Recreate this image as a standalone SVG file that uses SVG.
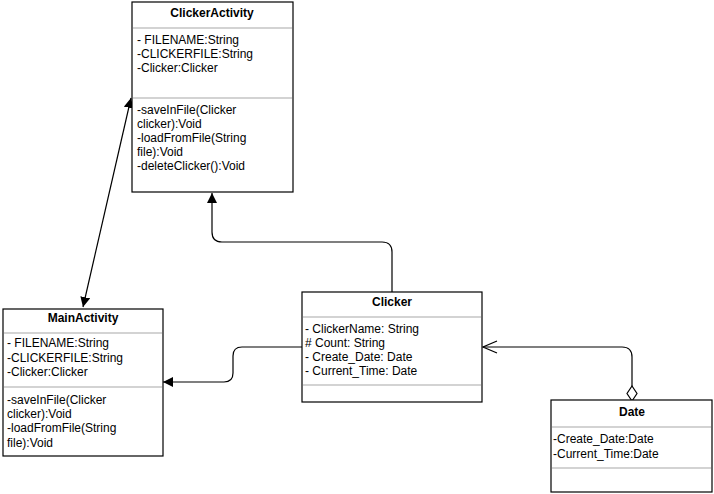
<svg xmlns="http://www.w3.org/2000/svg" width="714" height="494" viewBox="0 0 714 494">
<style>
.box{fill:#fff;stroke:#000;stroke-width:1.2}
.div{stroke:#c4c4c4;stroke-width:1.5}
.t{font-family:"Liberation Sans",Arial,sans-serif;font-size:12px;fill:#000}
.h{font-family:"Liberation Sans",Arial,sans-serif;font-size:12px;font-weight:bold;fill:#000;text-anchor:middle}
.c{fill:none;stroke:#000;stroke-width:1.2}
</style>
<defs>
<marker id="fa" viewBox="0 0 10 10" refX="10" refY="5" markerWidth="10" markerHeight="10" markerUnits="userSpaceOnUse" orient="auto">
<path d="M0,0 L10,5 L0,10 Z" fill="#000"/>
</marker>
<marker id="fas" viewBox="0 0 10 10" refX="10" refY="5" markerWidth="10" markerHeight="10" markerUnits="userSpaceOnUse" orient="auto-start-reverse">
<path d="M0,0 L10,5 L0,10 Z" fill="#000"/>
</marker>
<marker id="oa" viewBox="0 0 16 14" refX="15" refY="7" markerWidth="16" markerHeight="14" markerUnits="userSpaceOnUse" orient="auto">
<path d="M1,1 L15,7 L1,13" fill="none" stroke="#000" stroke-width="1.2"/>
</marker>
</defs>
<g id="connectors">
<path class="c" d="M392,292 V252 Q392,242 382,242 H222 Q212,242 212,232 V193" marker-end="url(#fa)"/>
<path class="c" d="M302,347 H242 Q233,347 233,356 V373 Q233,382 224,382 H163" marker-end="url(#fa)"/>
<path class="c" d="M632,387 V357 Q632,347 622,347 H483" marker-end="url(#oa)"/>
<path d="M632,386 L637,393.5 L632,401 L627,393.5 Z" fill="#fff" stroke="#000" stroke-width="1.2"/>
<path class="c" d="M131,98 L83,307" marker-start="url(#fas)" marker-end="url(#fa)"/>
</g>
<g id="ClickerActivity">
<rect class="box" x="132" y="2" width="161" height="190"/>
<line class="div" x1="133" y1="28" x2="292" y2="28"/>
<line class="div" x1="133" y1="98" x2="292" y2="98"/>
<text class="h" x="212" y="17">ClickerActivity</text>
<text class="t" x="137" y="44">- FILENAME:String</text>
<text class="t" x="137" y="58">-CLICKERFILE:String</text>
<text class="t" x="137" y="72">-Clicker:Clicker</text>
<text class="t" x="137" y="114">-saveInFile(Clicker</text>
<text class="t" x="137" y="128">clicker):Void</text>
<text class="t" x="137" y="142">-loadFromFile(String</text>
<text class="t" x="137" y="156">file):Void</text>
<text class="t" x="137" y="170">-deleteClicker():Void</text>
</g>
<g id="MainActivity">
<rect class="box" x="3" y="309" width="160" height="147"/>
<line class="div" x1="4" y1="333" x2="162" y2="333"/>
<line class="div" x1="4" y1="387" x2="162" y2="387"/>
<text class="h" x="83" y="322">MainActivity</text>
<text class="t" x="7" y="347">- FILENAME:String</text>
<text class="t" x="7" y="362">-CLICKERFILE:String</text>
<text class="t" x="7" y="376">-Clicker:Clicker</text>
<text class="t" x="7" y="404">-saveInFile(Clicker</text>
<text class="t" x="7" y="418">clicker):Void</text>
<text class="t" x="7" y="432">-loadFromFile(String</text>
<text class="t" x="7" y="447">file):Void</text>
</g>
<g id="Clicker">
<rect class="box" x="302" y="292" width="180" height="110"/>
<line class="div" x1="303" y1="317" x2="481" y2="317"/>
<line class="div" x1="303" y1="385" x2="481" y2="385"/>
<text class="h" x="392" y="306">Clicker</text>
<text class="t" x="305" y="333">- ClickerName: String</text>
<text class="t" x="305" y="347">#  Count: String</text>
<text class="t" x="305" y="361">- Create_Date: Date</text>
<text class="t" x="305" y="375">- Current_Time: Date</text>
</g>
<g id="Date">
<rect class="box" x="551" y="400" width="161" height="92"/>
<line class="div" x1="552" y1="427" x2="711" y2="427"/>
<line class="div" x1="552" y1="468" x2="711" y2="468"/>
<text class="h" x="632" y="416">Date</text>
<text class="t" x="553" y="443">-Create_Date:Date</text>
<text class="t" x="553" y="458">-Current_Time:Date</text>
</g>
</svg>
